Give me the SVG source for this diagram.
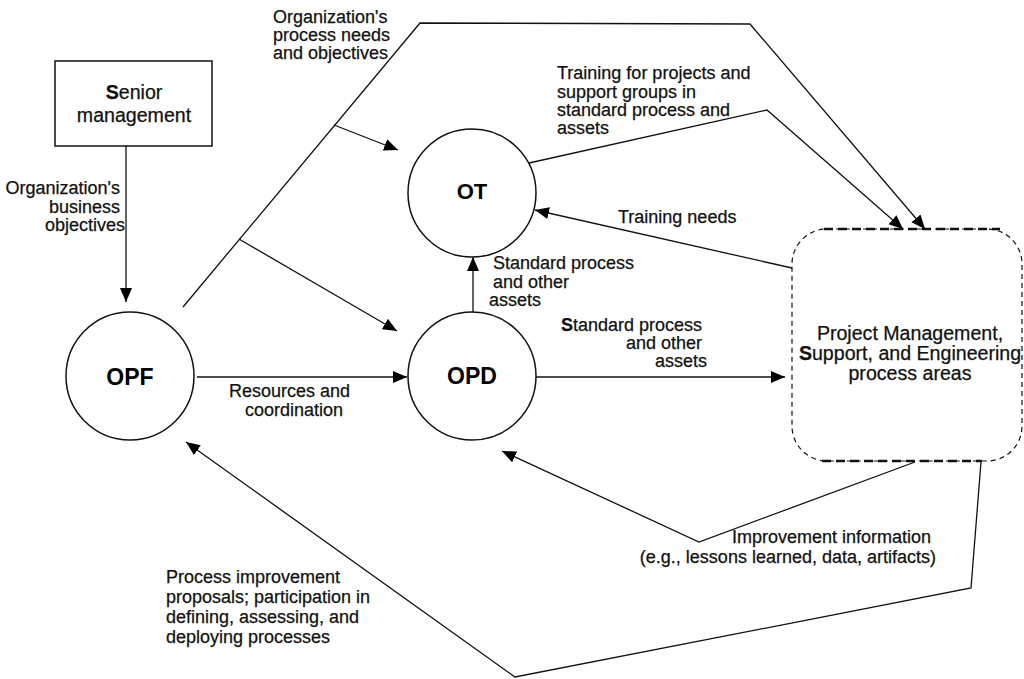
<svg xmlns="http://www.w3.org/2000/svg" width="1024" height="679" viewBox="0 0 1024 679">
  <style>
    .lbl { font-family: "Liberation Sans", Arial, sans-serif; font-size: 18px; fill: #111; stroke: #111; stroke-width: 0.25; }
    .big { font-family: "Liberation Sans", Arial, sans-serif; font-size: 19.6px; fill: #111; stroke: #111; stroke-width: 0.25; }
    .node-name { font-family: "Liberation Sans", Arial, sans-serif; font-weight: bold; fill: #000; text-anchor: middle; }
    .shape { fill: #fff; stroke: #111; stroke-width: 1.5; }
    .conn { fill: none; stroke: #111; stroke-width: 1.3; }
    .b { font-weight: bold; }
  </style>
  <defs>
    <marker id="arr" markerUnits="userSpaceOnUse" markerWidth="15" markerHeight="13" refX="14" refY="6" orient="auto">
      <path d="M0,0 L14,6 L0,12 z" fill="#000"/>
    </marker>
  </defs>

  <rect width="1024" height="679" fill="#fff"/>

  <!-- connectors -->
  <g id="connectors">
    <line class="conn" x1="126" y1="146" x2="126" y2="302" marker-end="url(#arr)"/>
    <polyline class="conn" points="183,307 420,23 750,24 925,229" marker-end="url(#arr)"/>
    <line class="conn" x1="334" y1="125" x2="398" y2="150" marker-end="url(#arr)"/>
    <line class="conn" x1="239" y1="239" x2="397" y2="331" marker-end="url(#arr)"/>
    <line class="conn" x1="197" y1="377" x2="407" y2="377" marker-end="url(#arr)"/>
    <line class="conn" x1="473" y1="312" x2="473" y2="257" marker-end="url(#arr)"/>
    <polyline class="conn" points="529,163 767,110 903,229" marker-end="url(#arr)"/>
    <line class="conn" x1="792" y1="268" x2="535" y2="210" marker-end="url(#arr)"/>
    <line class="conn" x1="536" y1="377" x2="785" y2="377" marker-end="url(#arr)"/>
    <polyline class="conn" points="915,462 699,542 502,451" marker-end="url(#arr)"/>
    <polyline class="conn" points="981,462 971,588 515,677 186,442" marker-end="url(#arr)"/>
  </g>

  <!-- Senior management -->
  <g id="senior-management">
    <rect class="shape" x="55" y="61" width="157" height="85"/>
    <text class="big" x="134" y="99" text-anchor="middle"><tspan class="b">S</tspan>enior</text>
    <text class="big" x="134" y="122" text-anchor="middle">management</text>
  </g>

  <!-- OPF -->
  <g id="opf">
    <circle class="shape" cx="130" cy="376" r="64"/>
    <text class="node-name" x="130" y="385" font-size="23">OPF</text>
  </g>

  <!-- OPD -->
  <g id="opd">
    <circle class="shape" cx="472" cy="376" r="64"/>
    <text class="node-name" x="472" y="384" font-size="23">OPD</text>
  </g>

  <!-- OT -->
  <g id="ot">
    <circle class="shape" cx="472" cy="193" r="64"/>
    <text class="node-name" x="472" y="199" font-size="22">OT</text>
  </g>

  <!-- Project Management, Support, and Engineering process areas -->
  <g id="process-areas">
    <rect x="792" y="229" width="230" height="232" rx="35" fill="#fff" stroke="#111" stroke-width="1.2" stroke-dasharray="5 4"/>
    <line x1="824" y1="229" x2="1000" y2="229" stroke="#111" stroke-width="2.6" stroke-dasharray="9 5"/>
    <line x1="822" y1="461" x2="982" y2="461" stroke="#111" stroke-width="2.6" stroke-dasharray="9 5"/>
    <text class="big" x="910" y="340" text-anchor="middle">Project Management,</text>
    <text class="big" x="910" y="360" text-anchor="middle"><tspan class="b">S</tspan>upport, and Engineering</text>
    <text class="big" x="910" y="380" text-anchor="middle">process areas</text>
  </g>

  <!-- connector labels -->
  <g id="labels">
    <text class="lbl" text-anchor="end">
      <tspan x="125" y="194">Organization's</tspan>
      <tspan x="125" y="213">business</tspan>
      <tspan x="125" y="231">objectives</tspan>
    </text>
    <text class="lbl">
      <tspan x="273" y="23">Organization's</tspan>
      <tspan x="273" y="41">process needs</tspan>
      <tspan x="273" y="59">and objectives</tspan>
    </text>
    <text class="lbl">
      <tspan x="557" y="79">Training for projects and</tspan>
      <tspan x="557" y="98">support groups in</tspan>
      <tspan x="557" y="116">standard process and</tspan>
      <tspan x="557" y="134">assets</tspan>
    </text>
    <text class="lbl" x="618" y="223">Training needs</text>
    <text class="lbl">
      <tspan x="493" y="269">Standard process</tspan>
      <tspan x="493" y="288">and other</tspan>
      <tspan x="489" y="306">assets</tspan>
    </text>
    <text class="lbl" text-anchor="end">
      <tspan x="707" y="331"><tspan class="b">S</tspan>tandard process</tspan>
      <tspan x="707" y="349">and other</tspan>
      <tspan x="707" y="367">assets</tspan>
    </text>
    <text class="lbl" text-anchor="middle">
      <tspan x="292" y="397">Resources and</tspan>
      <tspan x="294" y="416">coordination</tspan>
    </text>
    <text class="lbl" text-anchor="end">
      <tspan x="936" y="543">Improvement information</tspan>
      <tspan x="936" y="563">(e.g., lessons learned, data, artifacts)</tspan>
    </text>
    <text class="lbl">
      <tspan x="166" y="583">Process improvement</tspan>
      <tspan x="166" y="603">proposals; participation in</tspan>
      <tspan x="166" y="623">defining, assessing, and</tspan>
      <tspan x="166" y="643">deploying processes</tspan>
    </text>
  </g>
</svg>
